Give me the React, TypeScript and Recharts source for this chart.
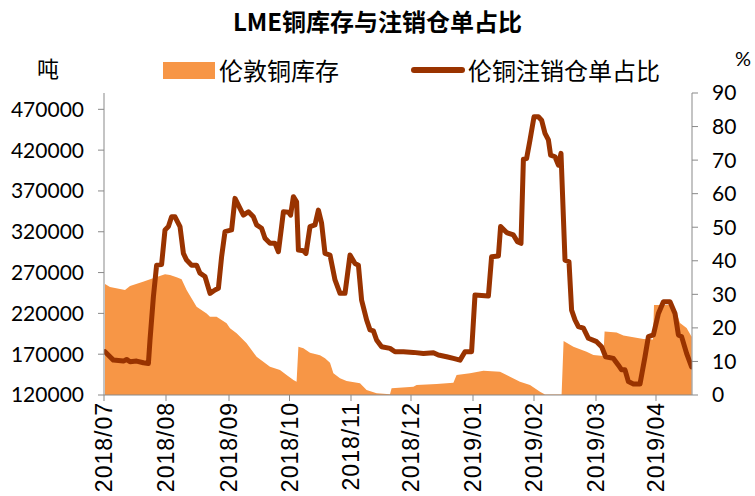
import React from 'react';
import { ComposedChart, Area, Line, XAxis, YAxis } from 'recharts';

const monthLabels = ['2018/07', '2018/08', '2018/09', '2018/10', '2018/11', '2018/12', '2019/01', '2019/02', '2019/03', '2019/04'];
const monthTicks = [0, 31, 62.5, 92.75, 123.5, 153.5, 184.5, 215, 246, 276];

const leftTicks = [120000, 170000, 220000, 270000, 320000, 370000, 420000, 470000];
const rightTicks = [0, 10, 20, 30, 40, 50, 60, 70, 80, 90];

// 伦敦铜库存 (吨)
const stockDay = [0.5, 3, 8, 10.5, 13, 19.5, 24.5, 30.5, 33, 36.3, 38.8, 41.3, 46.3, 51.3, 53, 56.3, 61.3, 63, 66.3, 71.3, 76.3, 83, 88, 91.3, 94.7, 96.3, 97.2, 99.7, 103, 108, 110.5, 113, 114.7, 118, 121.3, 128, 131.3, 136.3, 143, 143.8, 154.7, 156.3, 166.3, 174.7, 176.3, 183, 189.7, 198, 201.3, 208, 213, 218, 220.5, 228.8, 229.8, 234.7, 241.3, 244.7, 249.7, 250.3, 256.3, 259.7, 269.7, 274.5, 275, 283, 286.3, 288, 291.3, 293.8];
const stockValue = [256000, 252300, 250000, 248600, 253500, 258800, 263000, 267900, 267000, 264200, 261700, 248600, 228200, 220000, 215900, 215900, 207800, 201700, 195600, 183300, 166900, 154700, 150600, 144500, 138400, 136300, 179200, 177200, 171800, 168600, 165000, 159600, 146600, 140500, 137200, 134300, 126100, 122100, 120900, 128200, 130200, 132250, 133500, 135100, 144500, 146600, 149800, 148500, 144500, 136300, 132250, 124000, 120600, 120600, 186150, 179200, 173000, 169000, 167800, 197800, 196600, 192900, 188600, 188000, 230250, 230250, 220500, 208200, 202000, 191400];

// 伦铜注销仓单占比 (%)
const ratioDay = [0.5, 3, 4.7, 9.7, 11.3, 13, 16.3, 19.7, 22.2, 23, 24.7, 26.3, 28.8, 30.5, 32.2, 33.8, 35.5, 38, 39.7, 41.3, 43.8, 46.3, 48, 50.5, 53, 55.5, 57.2, 58.8, 60.5, 63.8, 65.5, 68, 69.7, 72.2, 74.7, 76.3, 78.8, 80.5, 83, 85.5, 87.2, 88.8, 89.7, 92.2, 93.3, 94.7, 96.3, 97.2, 99.7, 101, 103, 105.5, 107.2, 108.8, 110.5, 113, 115.5, 118, 120.5, 123, 125.5, 127.2, 128.8, 131.3, 133, 134.7, 136.3, 138.8, 143, 145.5, 149.7, 154.7, 159.7, 164.7, 167.2, 171.3, 174.7, 178, 180.5, 183.8, 185.5, 192.2, 193.8, 197.2, 198.3, 201.3, 204.7, 206.7, 208.5, 209.7, 211.3, 213, 215, 217.2, 218.8, 220.5, 222.2, 223.3, 225.5, 227.2, 228.5, 230.5, 232.5, 233.8, 235.5, 237.2, 239.7, 242.2, 246.3, 248.8, 250.8, 254.7, 257.2, 258.8, 260.5, 262.2, 264.7, 268, 270.5, 272.2, 274.7, 277.2, 279.7, 283, 285.5, 287.2, 288.8, 291.3, 293.8];
const ratioValue = [12.9, 11.4, 10.4, 10.1, 10.6, 9.9, 10.1, 9.6, 9.4, 16.4, 29.3, 38.7, 38.9, 49.2, 50.2, 53.1, 53.1, 50.2, 42.2, 40.2, 38.7, 38.7, 36.3, 35.3, 30.3, 31.3, 31.8, 41.2, 48.7, 49.2, 58.6, 55.6, 53.6, 54.6, 53.1, 50.7, 49.7, 46.7, 45.2, 45.2, 42.7, 50.2, 54.6, 54.5, 53.6, 59.1, 57.6, 43.2, 43.0, 42.2, 50.2, 50.7, 55.1, 51.2, 42.2, 41.7, 34.3, 30.3, 30.3, 41.7, 39.2, 38.7, 28.3, 22.4, 19.4, 19.1, 16.4, 14.4, 13.9, 12.9, 12.9, 12.7, 12.4, 12.6, 11.9, 11.4, 10.9, 10.4, 12.9, 12.9, 29.8, 29.5, 41.2, 41.4, 50.2, 48.4, 47.7, 45.7, 45.2, 70.3, 70.5, 76.0, 82.9, 82.9, 81.9, 78.0, 76.0, 71.5, 71.0, 68.5, 72.0, 40.2, 39.7, 25.3, 22.4, 20.4, 19.9, 16.9, 15.9, 14.4, 11.4, 10.9, 8.9, 7.5, 7.5, 4.0, 3.3, 3.3, 11.4, 17.4, 17.9, 24.3, 27.8, 27.8, 24.3, 17.9, 17.4, 12.4, 8.4];

type Row = { d: number; stock?: number; ratio?: number };

function buildData(): Row[] {
  const map = new Map<number, Row>();
  stockDay.forEach((d, i) => {
    const r = map.get(d) || { d };
    r.stock = stockValue[i];
    map.set(d, r);
  });
  ratioDay.forEach((d, i) => {
    const r = map.get(d) || { d };
    r.ratio = ratioValue[i];
    map.set(d, r);
  });
  return Array.from(map.values()).sort((a, b) => a.d - b.d);
}

const data = buildData();

const AREA_COLOR = '#F79646';
const LINE_COLOR = '#993300';
const AXIS_COLOR = '#898989';
const CJK = '"Noto Sans CJK SC", "Noto Sans", sans-serif';

const XTick = (props: any) => {
  const { x, y, payload } = props;
  const idx = monthTicks.indexOf(payload.value);
  const label = idx >= 0 ? monthLabels[idx] : '';
  return (
    <text
      x={x}
      y={y}
      transform={`rotate(-90, ${x}, ${y})`}
      textAnchor="end"
      dominantBaseline="central"
      fontSize={23}
      letterSpacing={1}
      fontFamily='"Liberation Sans", Arial, sans-serif'
      fill="#000"
    >
      {label}
    </text>
  );
};

export default function App() {
  return (
    <div style={{ position: 'relative', width: 755, height: 496, background: '#fff', overflow: 'hidden' }}>
      <style>{`body{margin:0;}`}</style>
      <ComposedChart
        width={755}
        height={496}
        data={data}
        margin={{ top: 93, right: 0, bottom: 0, left: 0 }}
      >
        <XAxis
          dataKey="d"
          type="number"
          domain={[0, 294]}
          ticks={monthTicks}
          interval={0}
          tick={<XTick />}
          tickSize={6}
          tickMargin={1}
          height={101}
          stroke={AXIS_COLOR}
          tickLine={{ stroke: AXIS_COLOR }}
          allowDataOverflow
        />
        <YAxis
          yAxisId="left"
          orientation="left"
          domain={[120000, 490000]}
          ticks={leftTicks}
          interval={0}
          width={104}
          tickSize={6}
          tickMargin={14}
          stroke={AXIS_COLOR}
          tickLine={{ stroke: AXIS_COLOR }}
          tick={{ fill: '#000', fontSize: 21, fontFamily: 'Lato, "Liberation Sans", sans-serif' }}
          allowDataOverflow
        />
        <YAxis
          yAxisId="right"
          orientation="right"
          domain={[0, 90]}
          ticks={rightTicks}
          interval={0}
          width={63}
          tickSize={6}
          tickMargin={14}
          stroke={AXIS_COLOR}
          tickLine={{ stroke: AXIS_COLOR }}
          tick={{ fill: '#000', fontSize: 21, fontFamily: 'Lato, "Liberation Sans", sans-serif', textAnchor: 'start' }}
          allowDataOverflow
        />
        <Area
          yAxisId="left"
          dataKey="stock"
          type="linear"
          fill={AREA_COLOR}
          fillOpacity={1}
          stroke="none"
          connectNulls
          isAnimationActive={false}
          dot={false}
          activeDot={false}
        />
        <Line
          yAxisId="right"
          dataKey="ratio"
          type="linear"
          stroke={LINE_COLOR}
          strokeWidth={5}
          strokeLinejoin="round"
          strokeLinecap="round"
          connectNulls
          dot={false}
          activeDot={false}
          isAnimationActive={false}
        />
      </ComposedChart>

      <div style={{ position: 'absolute', left: 0, top: 4, width: 755, textAlign: 'center', fontFamily: CJK, fontWeight: 700, fontSize: 24, lineHeight: '34px', color: '#000' }}>
        LME铜库存与注销仓单占比
      </div>
      <div style={{ position: 'absolute', left: 37, top: 52, fontFamily: CJK, fontSize: 22, lineHeight: '30px', color: '#000' }}>吨</div>
      <div style={{ position: 'absolute', left: 735, top: 44, fontFamily: 'Lato, sans-serif', fontSize: 20, lineHeight: '28px', color: '#000' }}>%</div>

      <div style={{ position: 'absolute', left: 163, top: 62, width: 52, height: 17, background: AREA_COLOR }} />
      <div style={{ position: 'absolute', left: 219, top: 54, fontFamily: CJK, fontSize: 24, lineHeight: '32px', color: '#000' }}>伦敦铜库存</div>
      <div style={{ position: 'absolute', left: 411, top: 67, width: 54, height: 6, borderRadius: 3, background: LINE_COLOR }} />
      <div style={{ position: 'absolute', left: 468, top: 54, fontFamily: CJK, fontSize: 24, lineHeight: '32px', color: '#000' }}>伦铜注销仓单占比</div>
    </div>
  );
}
